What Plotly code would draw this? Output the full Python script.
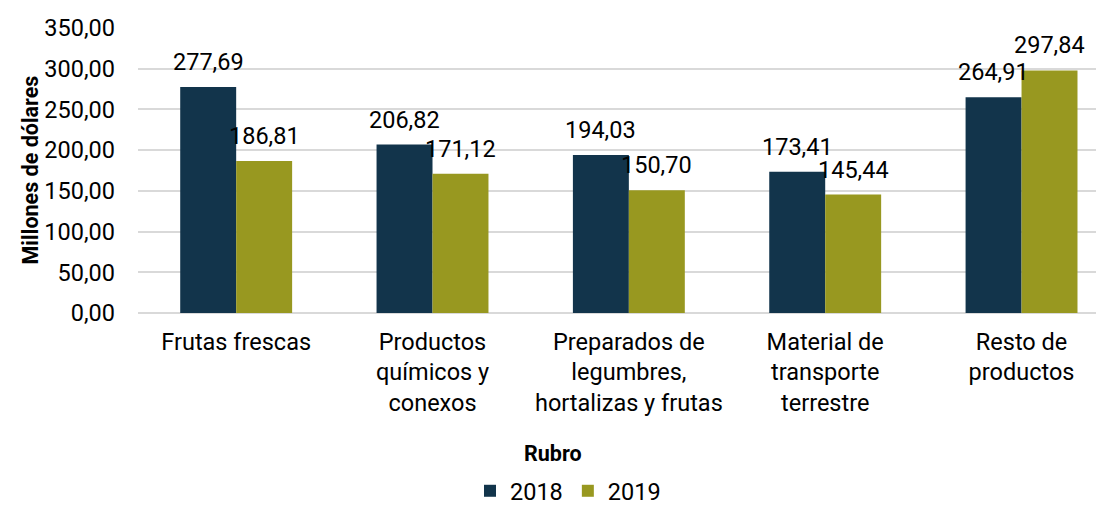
import plotly.graph_objects as go

categories = ["Frutas frescas", "Productos<br>químicos y<br>conexos", "Preparados de<br>legumbres,<br>hortalizas y frutas",
              "Material de<br>transporte<br>terrestre", "Resto de<br>productos"]
series_names = ["2018", "2019"]
v2018 = [277.69, 206.82, 194.03, 173.41, 264.91]
v2019 = [186.81, 171.12, 150.70, 145.44, 297.84]
colors = ["#12344b", "#989820"]

FONT = "Roboto"
FS = 23.5
W, H = 1096, 497
L, T, B = 130, 20, 305
PW, PH = W - L, B - T

fig = go.Figure()
for name, vals, col in zip(series_names, [v2018, v2019], colors):
    fig.add_trace(go.Bar(x=categories, y=vals, name=name, marker=dict(color=col, line=dict(width=0))))

def fmt(v):
    return f"{v:.2f}".replace(".", ",")

for vals, shift in [(v2018, -28), (v2019, 28)]:
    for c, v in zip(categories, vals):
        fig.add_annotation(x=c, y=v, text=fmt(v), showarrow=False, xshift=shift, yshift=9,
                           xanchor="center", yanchor="bottom", font=dict(family=FONT, size=FS, color="#000"))

fig.add_annotation(xref="paper", yref="paper", x=(545 - L) / PW, y=(B - 445) / PH, xanchor="center", yanchor="middle",
                   text="<b>Rubro</b>", showarrow=False, font=dict(family=FONT, size=21.5, color="#000"))
fig.add_annotation(xref="paper", yref="paper", x=(22 - L) / PW, y=0.5, textangle=-90, xanchor="center", yanchor="middle",
                   text="<b>Millones de dólares</b>", showarrow=False, font=dict(family=FONT, size=21.5, color="#000"))

fig.update_layout(
    width=W, height=H,
    margin=dict(l=L, r=0, t=T, b=H - B, autoexpand=False),
    paper_bgcolor="white", plot_bgcolor="white",
    separators=",.",
    barmode="group", bargap=0.43, bargroupgap=0,
    font=dict(family=FONT, size=FS, color="#000"),
    showlegend=True,
    legend=dict(orientation="h", x=(560 - L) / PW, xanchor="center", y=(B - 483) / PH, yanchor="middle",
                font=dict(family=FONT, size=FS), itemwidth=30, traceorder="normal",
                tracegroupgap=0, borderwidth=0),
    xaxis=dict(range=[-0.5, 4.42], showgrid=False, ticks="", ticklabelstandoff=12, automargin=False,
               tickfont=dict(family=FONT, size=FS)),
    yaxis=dict(range=[0, 350], dtick=50, tickformat=".2f", showgrid=True, gridcolor="#d9d9d9", gridwidth=1.5,
               zeroline=True, zerolinecolor="#d9d9d9", zerolinewidth=1.5, ticklabelstandoff=22, automargin=False,
               tickfont=dict(family=FONT, size=FS)),
)
fig.write_html("out.html")
